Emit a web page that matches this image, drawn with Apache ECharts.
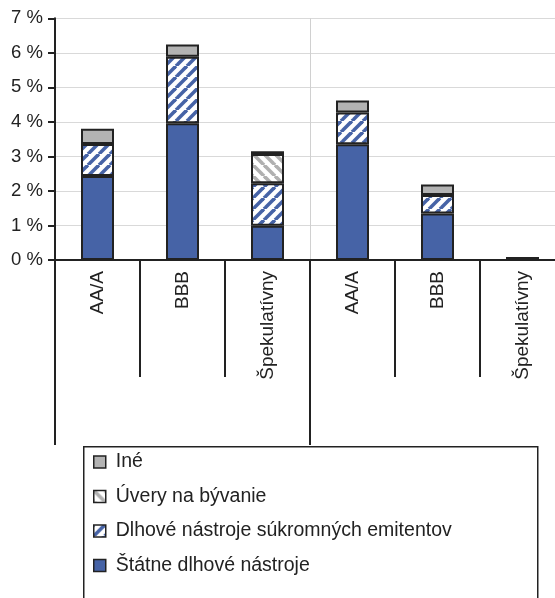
<!DOCTYPE html>
<html>
<head>
<meta charset="utf-8">
<script src="https://cdn.jsdelivr.net/npm/echarts@6/dist/echarts.min.js"></script>
<style>html,body{margin:0;padding:0;background:#fff;overflow:hidden;width:555px;height:598px;}#c{width:575px;height:598px;}</style>
</head>
<body>
<div id="c"></div>
<script>
// ---- data ----
var categories = ['AA/A', 'BBB', 'Špekulatívny', 'AA/A', 'BBB', 'Špekulatívny'];
var groups = ['', ''];
var statne = [2.43, 3.96, 0.99, 3.35, 1.35, 0.09];
var sukromne = [0.93, 1.93, 1.23, 0.92, 0.53, 0];
var uvery = [0, 0, 0.85, 0, 0, 0];
var ine = [0.44, 0.35, 0.08, 0.35, 0.31, 0];
var yTicks = [0, 1, 2, 3, 4, 5, 6, 7];
var seriesNames = ['Štátne dlhové nástroje', 'Dlhové nástroje súkromných emitentov', 'Úvery na bývanie', 'Iné'];

function stripes(color, dir) {
  var P = 11;
  var c = document.createElement('canvas');
  c.width = P; c.height = P;
  var g = c.getContext('2d');
  g.fillStyle = '#fff';
  g.fillRect(0, 0, P, P);
  g.strokeStyle = color;
  g.lineWidth = 3.6;
  for (var k = -1; k <= 1; k++) {
    g.beginPath();
    if (dir === '/') { g.moveTo(k * P, P); g.lineTo(k * P + P, 0); }
    else { g.moveTo(k * P, 0); g.lineTo(k * P + P, P); }
    g.stroke();
  }
  return { image: c, repeat: 'repeat' };
}

var BLUE = '#4663a6';
var GREY = '#b3b3b3';
var DARK = '#222';
var font = 'Liberation Sans, Arial, sans-serif';

var colors = [BLUE, stripes(BLUE, '/'), stripes('#b0b0b0', '\\'), GREY];
var values = [statne, sukromne, uvery, ine];

var series = seriesNames.map(function (n, i) {
  return {
    name: n, type: 'bar', stack: 'total', barWidth: 33,
    xAxisIndex: 0, yAxisIndex: 0,
    data: values[i].map(function (v) { return v === 0 ? '-' : v; }),
    itemStyle: { color: colors[i], borderColor: DARK, borderWidth: 2 }
  };
});
// the near-zero last bar renders as a dark sliver
series[0].data[5] = { value: statne[5], itemStyle: { color: DARK } };

var chart = echarts.init(document.getElementById('c'), null, { renderer: 'canvas' });
chart.setOption({
  animation: false,
  backgroundColor: '#fff',
  textStyle: { fontFamily: font },
  grid: { left: 55, top: 18.3, width: 510, height: 241.7, containLabel: false },
  xAxis: [{
    type: 'category', data: categories, position: 'bottom',
    axisLine: { show: true, lineStyle: { color: DARK, width: 2 } },
    axisTick: { show: true, length: 117, interval: 0, alignWithLabel: false, lineStyle: { color: DARK, width: 2 } },
    axisLabel: { rotate: 90, interval: 0, fontSize: 19, color: DARK, margin: 11, fontFamily: font },
    splitLine: { show: false }
  }, {
    type: 'category', data: groups, position: 'bottom',
    axisLine: { show: false },
    axisTick: { show: true, length: 185, interval: 0, alignWithLabel: false, lineStyle: { color: DARK, width: 2 } },
    axisLabel: { show: false },
    splitLine: { show: true, interval: 0, lineStyle: { color: '#d0d0d0', width: 1 } }
  }],
  yAxis: {
    type: 'value', min: yTicks[0], max: yTicks[yTicks.length - 1], interval: 1,
    axisLine: { show: true, lineStyle: { color: DARK, width: 2 } },
    axisTick: { show: true, length: 7, lineStyle: { color: DARK, width: 2 } },
    axisLabel: { formatter: '{value} %', fontSize: 18.5, color: DARK, margin: 12, fontFamily: font },
    splitLine: { show: true, lineStyle: { color: '#d9d9d9', width: 1 } }
  },
  graphic: [{
    type: 'rect', z: 0, left: 83, top: 446,
    shape: { width: 454, height: 200 },
    style: { fill: '#fff', stroke: DARK, lineWidth: 1.5 }
  }],
  legend: {
    z: 10, orient: 'vertical', left: 88, top: 447,
    data: seriesNames.slice().reverse(),
    icon: 'rect', itemWidth: 12, itemHeight: 12, itemGap: 14.5,
    itemStyle: { borderColor: DARK, borderWidth: 1.5 },
    textStyle: { fontSize: 19.5, color: DARK, lineHeight: 20, fontFamily: font, padding: [0, 0, 0, 5] },
    selectedMode: false
  },
  series: series
});
</script>
</body>
</html>
